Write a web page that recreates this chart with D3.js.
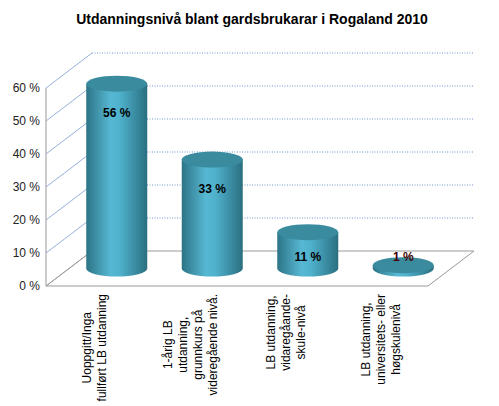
<!DOCTYPE html>
<html><head><meta charset="utf-8">
<script src="https://cdn.jsdelivr.net/npm/d3@7"></script>
<style>body{margin:0;background:#fff}text{font-family:"Liberation Sans",Arial,sans-serif}</style>
</head><body>
<svg id="c" width="499" height="406"></svg>
<script>
const categories = [
  ['Uoppgitt/Inga', 'fullført LB utdanning'],
  ['1-årig LB', 'utdanning,', 'grunnkurs på', 'videregående nivå.'],
  ['LB utdanning,', 'vidaregåande-', 'skule-nivå'],
  ['LB utdanning,', 'universitets- eller', 'høgskulenivå']
];
const values = [56, 33, 11, 1];
const valueLabels = ['56 %', '33 %', '11 %', '1 %'];
const yTicks = [0, 10, 20, 30, 40, 50, 60];

const svg = d3.select('#c');
const dx = 46, dy = -35;
const x = d3.scaleBand().domain(d3.range(values.length)).range([46, 428]);
const y = d3.scaleLinear().domain([0, 60]).range([286, 88]);

const defs = svg.append('defs');
const g = defs.append('linearGradient').attr('id', 'cyl');
[[0, '#2c7486'], [0.4, '#57b8d3'], [0.55, '#4fb1cc'], [1, '#2a6f80']].forEach(([o, c]) =>
  g.append('stop').attr('offset', o).attr('stop-color', c));

// title
svg.append('text').attr('x', 252).attr('y', 24).attr('text-anchor', 'middle')
  .attr('font-size', 14).attr('font-weight', 'bold').attr('fill', '#000')
  .text('Utdanningsnivå blant gardsbrukarar i Rogaland 2010');

// back wall gridlines and side wall diagonals
yTicks.forEach(t => {
  if (t > 0) {
    svg.append('line').attr('x1', 46 + dx).attr('x2', 428 + dx)
      .attr('y1', y(t) + dy).attr('y2', y(t) + dy)
      .attr('stroke', '#4a78c0').attr('stroke-width', 0.8).attr('stroke-dasharray', '1,1.5');
  }
  svg.append('line').attr('x1', 46).attr('y1', y(t)).attr('x2', 46 + dx).attr('y2', y(t) + dy)
    .attr('stroke', t === 0 ? '#999' : '#7a9ad0').attr('stroke-width', 0.8);
  svg.append('text').attr('x', 40).attr('y', y(t) + 4).attr('text-anchor', 'end')
    .attr('font-size', 12).attr('fill', '#222').text(t + ' %');
});
// floor
svg.append('path')
  .attr('d', `M46,${y(0)}L428,${y(0)}L${428 + dx},${y(0) + dy}L${46 + dx},${y(0) + dy}Z`)
  .attr('fill', 'none').attr('stroke', '#999').attr('stroke-width', 1);
svg.append('line').attr('x1', 46).attr('x2', 46).attr('y1', y(60)).attr('y2', y(0))
  .attr('stroke', '#999');

// cylinders
const rx = 30.5, ry = 8;
values.forEach((v, i) => {
  const cx = x(i) + x.bandwidth() / 2 + dx / 2;
  const by = y(0) + dy / 2;
  const ty = by - (y(0) - y(v));
  svg.append('path')
    .attr('d', `M${cx - rx},${ty}L${cx - rx},${by}A${rx},${ry} 0 0 0 ${cx + rx},${by}L${cx + rx},${ty}Z`)
    .attr('fill', 'url(#cyl)');
  svg.append('ellipse').attr('cx', cx).attr('cy', ty).attr('rx', rx).attr('ry', ry)
    .attr('fill', '#3a8b9e');
  svg.append('text').attr('x', cx).attr('y', Math.min(ty + 33, by - 8))
    .attr('text-anchor', 'middle').attr('font-size', 12).attr('font-weight', 'bold')
    .attr('fill', i === 3 ? '#400' : '#000').text(valueLabels[i]);
});

// category labels (rotated)
categories.forEach((lines, i) => {
  const cx = x(i) + x.bandwidth() / 2;
  const lh = 15;
  const gl = svg.append('g');
  const n = lines.length;
  const ts = lines.map((l, j) => gl.append('text').attr('font-size', 12).attr('fill', '#000')
    .attr('text-anchor', 'middle').text(l));
  const maxLen = d3.max(ts, t => t.node().getComputedTextLength());
  ts.forEach((t, j) => {
    const bx = cx - (n - 1) * lh / 2 + j * lh + 5;
    const by = 294 + maxLen / 2;
    t.attr('transform', `translate(${bx},${by}) rotate(-90)`);
  });
});
</script>
</body></html>
